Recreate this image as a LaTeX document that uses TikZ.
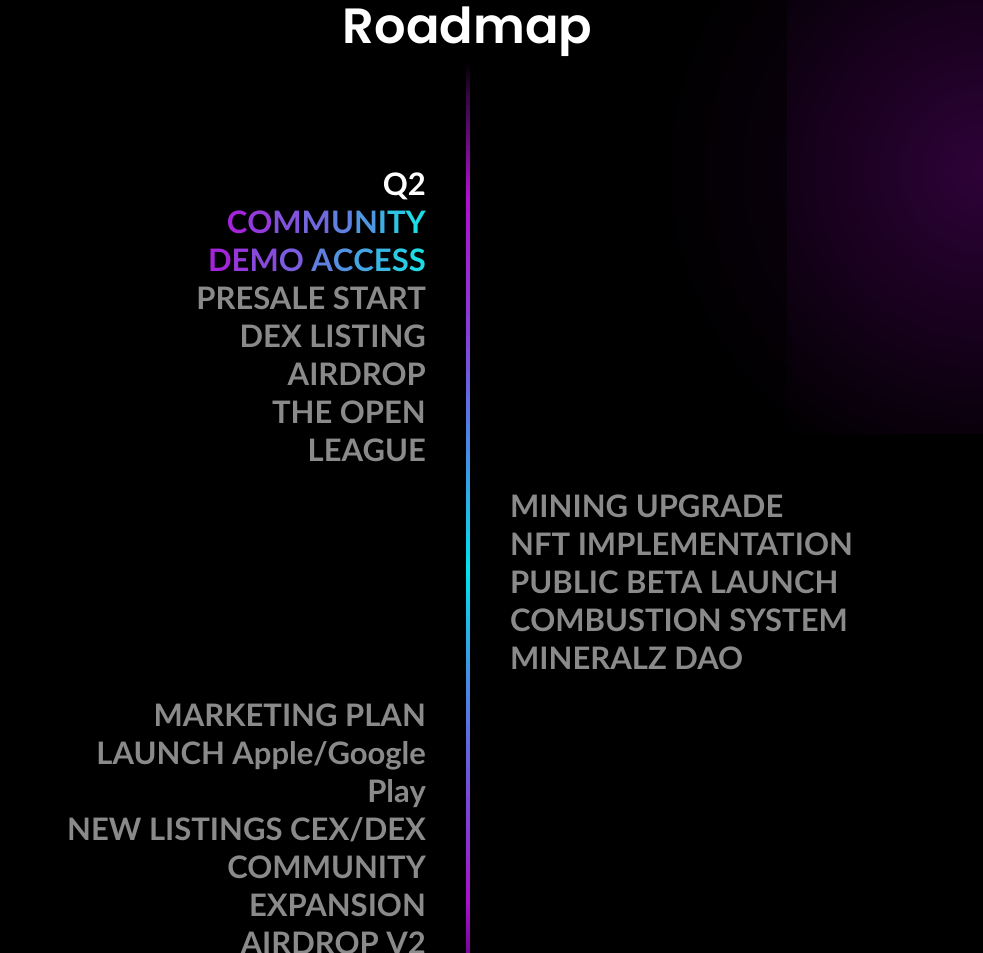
\documentclass[tikz,border=0pt]{standalone}
\usepackage{fontspec}
\usepackage{xcolor}
\newfontfamily\latofont{Lato}
\newfontfamily\poppinsfont{Poppins}[UprightFont=* SemiBold]
\definecolor{itemgray}{HTML}{8A8A8A}
\definecolor{gradP}{HTML}{A424DA}
\definecolor{gradC}{HTML}{1CDCE6}
\definecolor{glow}{HTML}{2E0238}
\definecolor{ls0}{HTML}{000000}
\definecolor{ls1}{HTML}{3A0848}
\definecolor{ls2}{HTML}{B010D0}
\definecolor{ls3}{HTML}{8A3CDA}
\definecolor{ls4}{HTML}{4A86E2}
\definecolor{ls5}{HTML}{00E2F0}
\definecolor{ls6}{HTML}{4A86E2}
\definecolor{ls7}{HTML}{7A48D8}
\definecolor{ls8}{HTML}{A812CC}
\definecolor{ls9}{HTML}{78089A}
\newcommand\gl[2]{\textcolor{gradC!#1!gradP}{#2}}
\begin{document}
\begin{tikzpicture}[x=1pt,y=-1pt,
  item/.style={font=\latofont\bfseries\fontsize{31}{38}\selectfont, text=itemgray, inner sep=0pt},
  itemL/.style={item, anchor=base east},
  itemR/.style={item, anchor=base west},
  titlestyle/.style={font=\poppinsfont\fontsize{49.5}{60}\selectfont, text=white, inner sep=0pt, anchor=base}]
\fill[black] (0,0) rectangle (983,953);
\useasboundingbox (0,0) rectangle (983,953);
% glow
\begin{scope}
\clip (787,0) rectangle (983,433);
\shade[inner color=glow, outer color=black] (983,170) circle (330);
\end{scope}
\begin{scope}[opacity=0.45]
\clip (620,0) rectangle (787,433);
\shade[inner color=glow, outer color=black] (983,170) circle (340);
\end{scope}
% vertical line
\foreach \ya/\yb/\ca/\cb in {62/100/ls0/ls1, 100/200/ls1/ls2, 200/330/ls2/ls3, 330/440/ls3/ls4, 440/570/ls4/ls5, 570/690/ls5/ls6, 690/800/ls6/ls7, 800/900/ls7/ls8, 900/953/ls8/ls9}{
  \foreach \i in {0,...,19}{
    \pgfmathsetmacro\pa{\ya+(\yb-\ya)*\i/20}
    \pgfmathsetmacro\pb{\ya+(\yb-\ya)*(\i+1)/20+0.6}
    \pgfmathsetmacro\pc{100*\i/19}
    \fill[\cb!\pc!\ca] (465.5,\pa) rectangle (469.5,\pb);
  }
}
% title
\node[titlestyle] (title) at (467.5,43) {Roadmap};
% left column top
\node[itemL, text=white] (q2) at (426,195) {Q2};
\node[itemL] (comm) at (426,233) {\gl{0}{C}\gl{12}{O}\gl{25}{M}\gl{37}{M}\gl{50}{U}\gl{62}{N}\gl{75}{I}\gl{87}{T}\gl{100}{Y}};
\node[itemL] (demo) at (426,271) {\gl{0}{D}\gl{10}{E}\gl{20}{M}\gl{30}{O} \gl{50}{A}\gl{60}{C}\gl{70}{C}\gl{80}{E}\gl{90}{S}\gl{100}{S}};
\node[itemL] (presale) at (426,309) {PRESALE START};
\node[itemL] (dex) at (426,347) {DEX LISTING};
\node[itemL] (air) at (426,385) {AIRDROP};
\node[itemL] (open) at (426,423) {THE OPEN};
\node[itemL] (league) at (426,461) {LEAGUE};
% right column
\node[itemR] (mining) at (510,517) {MINING UPGRADE};
\node[itemR] (nft) at (510,555) {NFT IMPLEMENTATION};
\node[itemR] (beta) at (510,593) {PUBLIC BETA LAUNCH};
\node[itemR] (comb) at (510,631) {COMBUSTION SYSTEM};
\node[itemR] (dao) at (510,669) {MINERALZ DAO};
% left column bottom
\node[itemL] (mkt) at (426,726) {MARKETING PLAN};
\node[itemL] (launch) at (426,764) {LAUNCH Apple/Google};
\node[itemL] (play) at (426,802) {Play};
\node[itemL] (newl) at (426,840) {NEW LISTINGS CEX/DEX};
\node[itemL] (comm2) at (426,878) {COMMUNITY};
\node[itemL] (exp) at (426,916) {EXPANSION};
\node[itemL] (air2) at (426,954) {AIRDROP V2};
\end{tikzpicture}
\end{document}
